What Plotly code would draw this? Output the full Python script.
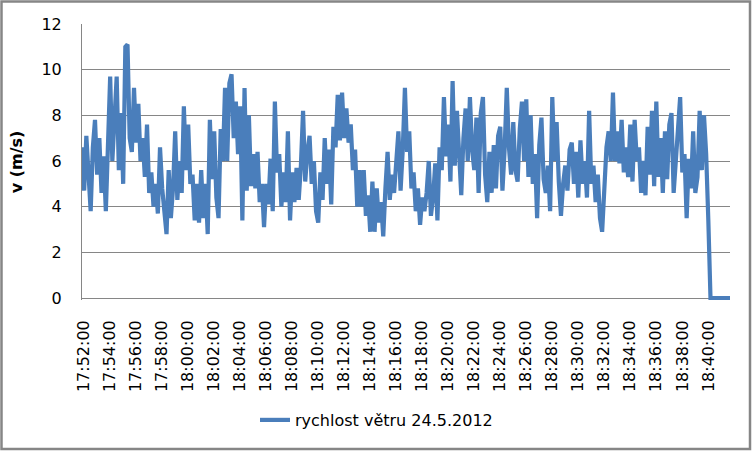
import pandas as pd
import plotly.graph_objects as go

# Wind speed log, one reading every 10 s starting at 17:51:50
START_TIME = "2012-05-24 17:51:50"
SAMPLE_STEP = "10s"
SERIES_NAME = "rychlost větru 24.5.2012"

# v (m/s), one row per 2 minutes (12 readings)
speed_head = [6.6]
speed_1752_1800 = [
    4.7, 7.1, 5.2, 3.8, 6.6, 7.8, 5.4, 7.0, 4.6, 6.2, 3.8, 6.3,
    9.7, 6.0, 8.0, 9.7, 5.6, 8.1, 5.0, 11.0, 11.1, 7.0, 6.4, 9.2,
    6.8, 8.5, 6.0, 7.0, 5.3, 7.6, 4.6, 5.5, 4.0, 5.0, 3.7, 6.6,
    4.8, 3.9, 2.8, 5.6, 3.5, 4.8, 7.3, 4.3, 6.0, 4.6, 8.4, 5.6,
]
speed_1800_1810 = [
    7.6, 5.0, 5.4, 3.4, 5.0, 3.3, 5.6, 3.5, 5.0, 2.8, 7.8, 5.2,
    7.3, 4.4, 3.5, 7.4, 6.0, 9.2, 6.0, 9.4, 9.8, 7.0, 8.6, 6.3,
    8.4, 3.4, 9.2, 4.7, 8.0, 4.9, 6.3, 4.8, 6.4, 4.2, 5.0, 3.1,
    5.0, 4.1, 6.1, 3.8, 8.6, 5.5, 6.3, 4.0, 5.5, 4.2, 7.3, 3.4,
    5.5, 4.2, 5.7, 4.3, 5.8, 8.2, 5.1, 6.4, 7.1, 5.0, 6.0, 3.8,
]
speed_1810_1820 = [
    3.3, 5.5, 4.3, 7.0, 5.0, 6.5, 4.1, 7.5, 6.6, 8.9, 6.9, 9.0,
    7.0, 8.3, 6.8, 7.6, 5.6, 6.5, 4.0, 5.6, 4.0, 5.6, 3.6, 4.5,
    2.9, 5.1, 2.9, 4.8, 3.3, 4.2, 2.7, 4.8, 6.4, 4.3, 5.4, 4.6,
    6.3, 7.3, 4.7, 6.5, 9.2, 6.4, 7.3, 4.8, 5.5, 3.8, 4.8, 3.2,
    4.4, 3.8, 4.6, 6.0, 3.6, 4.4, 5.9, 3.4, 6.6, 5.6, 8.8, 6.2,
]
speed_1820_1830 = [
    7.6, 5.1, 9.5, 5.8, 8.2, 6.3, 4.5, 7.0, 8.3, 6.0, 8.8, 6.5,
    5.6, 7.9, 4.6, 8.1, 8.8, 5.4, 4.2, 6.4, 4.6, 6.7, 4.8, 7.1,
    7.5, 4.7, 6.5, 9.2, 6.6, 5.4, 7.7, 5.6, 5.1, 7.4, 8.6, 6.0,
    8.7, 5.3, 8.0, 5.0, 6.3, 3.5, 6.7, 7.9, 5.2, 4.6, 5.8, 3.8,
    8.8, 6.0, 7.7, 5.1, 3.6, 5.0, 5.8, 4.7, 6.5, 6.8, 5.0, 6.4,
]
speed_1830_1840 = [
    4.4, 6.9, 5.0, 6.0, 4.4, 8.2, 5.0, 5.8, 4.2, 5.4, 3.5, 2.9,
    4.5, 6.6, 7.3, 6.0, 9.0, 6.0, 7.3, 5.9, 7.8, 5.5, 6.6, 5.3,
    7.6, 5.1, 7.8, 6.0, 6.6, 4.6, 6.0, 4.5, 7.5, 5.4, 8.2, 4.9,
    8.6, 5.3, 7.0, 4.6, 7.3, 5.2, 7.6, 8.1, 4.6, 6.0, 7.6, 8.8,
    5.5, 6.3, 3.5, 6.1, 4.8, 7.3, 4.6, 5.3, 8.2, 5.6, 8.0, 6.3,
]
speed_tail = [3.4, 0, 0, 0, 0, 0, 0, 0, 0, 0, 0]

y_ticks = [0, 2, 4, 6, 8, 10, 12]

FONT = "DejaVu Sans"
GRID = "#868686"
LINE = "#4a7ebb"


def build_series():
    """Join the pieces and give every reading its timestamp."""
    speed = (speed_head + speed_1752_1800 + speed_1800_1810 + speed_1810_1820
             + speed_1820_1830 + speed_1830_1840 + speed_tail)
    times = pd.date_range(START_TIME, periods=len(speed), freq=SAMPLE_STEP)
    return times, speed


def create_chart(times, speed):
    fig = go.Figure(go.Scatter(
        x=times, y=speed, mode="lines", name=SERIES_NAME,
        line=dict(color=LINE, width=4.2),
        showlegend=True,
    ))

    fig.update_layout(
        width=753, height=451,
        margin=dict(l=82, r=23, t=24, b=151),
        paper_bgcolor="white", plot_bgcolor="white",
        font=dict(family=FONT, color="black", size=16),
        showlegend=True,
        legend=dict(
            orientation="h",
            xref="container", yref="container",
            x=0.5, xanchor="center", y=1 - 420 / 451, yanchor="middle",
            font=dict(family=FONT, size=16),
        ),
    )

    fig.update_xaxes(
        type="date",
        range=[times[0], times[-1]],
        tick0="2012-05-24 17:52:00", dtick=120000,
        tickformat="%H:%M:%S", tickangle=-90,
        tickfont=dict(family=FONT, size=16),
        ticklabelstandoff=16,
        showgrid=False, zeroline=False, showline=False,
        automargin=False,
    )
    fig.update_yaxes(
        range=[-0.0876, 12],
        tickvals=y_ticks,
        tickfont=dict(family=FONT, size=16),
        ticklabelstandoff=16,
        showgrid=True, gridcolor=GRID, gridwidth=1,
        zeroline=True, zerolinecolor=GRID, zerolinewidth=1,
        showline=True, linecolor=GRID, linewidth=1,
        automargin=False,
        title=dict(text="<b>v (m/s)</b>", font=dict(family=FONT, size=16), standoff=14),
    )

    # chart area border
    fig.add_shape(
        type="rect", xref="paper", yref="paper",
        x0=(1.5 - 82) / 648, x1=(750 - 82) / 648,
        y0=(300 - 449) / 276, y1=(300 - 1.5) / 276,
        line=dict(color=GRID, width=2.5), fillcolor="rgba(0,0,0,0)",
        layer="above",
    )
    return fig


def main():
    times, speed = build_series()
    fig = create_chart(times, speed)
    # drop the browser's default page margin so the chart sits at 0,0
    fig.write_html(
        "out.html",
        config={"displayModeBar": False},
        post_script="document.body.style.margin='0px';",
    )


if __name__ == "__main__":
    main()
